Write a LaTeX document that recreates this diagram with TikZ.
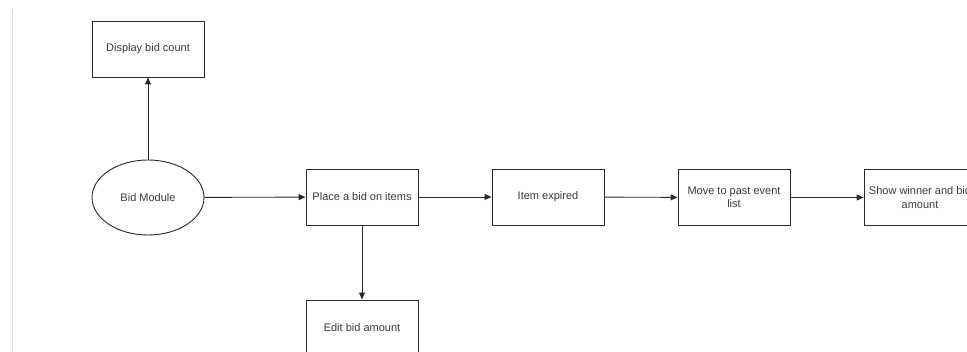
\documentclass[tikz,border=0pt]{standalone}
\usepackage{fontspec}
\setmainfont{Liberation Sans}
\usetikzlibrary{arrows.meta,shapes.geometric}
\definecolor{txtgray}{HTML}{3A3A3A}
\definecolor{edgegray}{HTML}{2A2A2A}
\tikzset{
  box/.style={draw=edgegray, line width=0.9pt, minimum width=112pt, minimum height=56pt,
    inner sep=0pt, align=center, text=txtgray,
    font=\fontsize{11}{13.5}\selectfont},
  oval/.style={draw=edgegray, line width=0.9pt, ellipse, minimum width=112pt, minimum height=75pt,
    inner sep=0pt, text=txtgray, font=\fontsize{11}{13.5}\selectfont},
  conn/.style={draw=edgegray, line width=0.9pt, -{Triangle[length=7pt,width=6pt]}}
}
\begin{document}
\begin{tikzpicture}[x=1pt,y=-1pt]
\useasboundingbox (0,0) rectangle (967,352);
\clip (0,0) rectangle (967,352);
\fill[white] (0,0) rectangle (967,352);
\draw[draw=black!12, line width=0.8pt] (12.5,10) -- (12.5,352);
\node[box] (disp) at (148,49) {Display bid count};
\node[oval] (mod) at (148,197.5) {Bid Module};
\node[box] (place) at (362,197) {Place a bid on items};
\node[box] (exp) at (548,197) {Item expired};
\node[box] (move) at (734,197.5) {Move to past event\\list};
\node[box] (win) at (920,197.5) {Show winner and bid\\amount};
\node[box] (edit) at (362,328) {Edit bid amount};
\draw[conn] (mod) -- (disp);
\draw[conn] (mod) -- (place);
\draw[conn] (place) -- (exp);
\draw[conn] (exp) -- (move);
\draw[conn] (move) -- (win);
\draw[conn] (place) -- (edit);
\end{tikzpicture}
\end{document}
